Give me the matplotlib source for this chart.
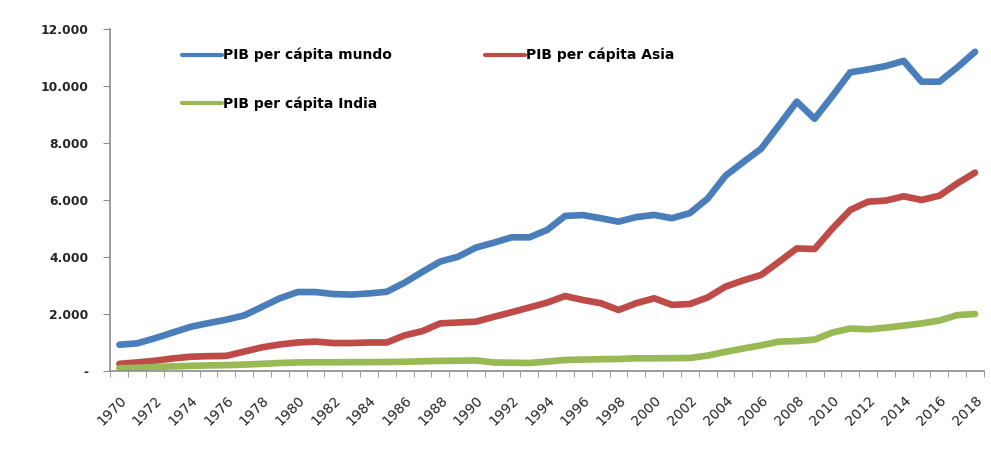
import matplotlib.pyplot as plt
from matplotlib.ticker import FuncFormatter, MultipleLocator

years = list(range(1970, 2019))

pib_mundo = [920, 970, 1150, 1350, 1550, 1680, 1800, 1950, 2250, 2550,
             2770, 2770, 2700, 2680, 2720, 2780, 3100, 3480, 3840, 4010,
             4330, 4500, 4690, 4690, 4950, 5440, 5470, 5360, 5240, 5400,
             5475, 5360, 5540, 6050, 6850, 7330, 7800, 8620, 9450, 8850,
             9650, 10480, 10580, 10700, 10880, 10150, 10150, 10650, 11200]

pib_asia = [250, 300, 360, 440, 500, 520, 530, 680, 830, 930,
            1000, 1030, 980, 980, 1000, 1000, 1250, 1400, 1670, 1700,
            1730, 1900, 2060, 2230, 2400, 2630, 2490, 2380, 2140, 2380,
            2550, 2320, 2350, 2580, 2960, 3180, 3370, 3830, 4300, 4280,
            5000, 5650, 5940, 5980, 6130, 6000, 6150, 6580, 6960]

pib_india = [95, 110, 140, 160, 180, 195, 205, 225, 250, 280,
             300, 305, 305, 310, 310, 315, 325, 340, 355, 360,
             370, 300, 290, 280, 330, 385, 400, 415, 420, 445,
             445, 450, 455, 540, 670, 790, 900, 1030, 1050, 1100,
             1350, 1490, 1460, 1520, 1590, 1670, 1770, 1960, 2000]

fig = plt.figure(figsize=(9.91, 4.5), dpi=100)
ax = fig.add_axes([0.1115, 0.1756, 0.8814, 0.76])

lw = 4.8
l1, = ax.plot(years, pib_mundo, color="#4A7EBB", linewidth=lw, solid_joinstyle="round",
              solid_capstyle="round", label="PIB per cápita mundo")
l2, = ax.plot(years, pib_asia, color="#BE4B48", linewidth=lw, solid_joinstyle="round",
              solid_capstyle="round", label="PIB per cápita Asia")
l3, = ax.plot(years, pib_india, color="#98B954", linewidth=lw, solid_joinstyle="round",
              solid_capstyle="round", label="PIB per cápita India")

ax.set_xlim(years[0] - 0.5, years[-1] + 0.5)
ax.set_ylim(0, 12000)
ax.yaxis.set_major_locator(MultipleLocator(2000))
ax.yaxis.set_major_formatter(FuncFormatter(
    lambda v, p: "-" if v == 0 else f"{int(v):,}".replace(",", ".")))

# labels every two years, tick marks between categories
ax.set_xticks(years[::2])
ax.set_xticks([y - 0.5 for y in years] + [years[-1] + 0.5], minor=True)

for s in ["top", "right"]:
    ax.spines[s].set_visible(False)
for s in ["left", "bottom"]:
    ax.spines[s].set_color("#8C8C8C")
    ax.spines[s].set_linewidth(1.2)

ax.tick_params(axis="y", colors="#8C8C8C", length=5, labelcolor="#262626",
               labelsize=8.8, pad=11)
ax.tick_params(axis="x", which="major", length=0, labelcolor="#262626",
               labelsize=10, pad=16)
ax.tick_params(axis="x", which="minor", colors="#8C8C8C", length=4)
for lab in ax.get_yticklabels():
    lab.set_fontweight("bold")
for lab in ax.get_xticklabels():
    lab.set_rotation(45)
    lab.set_ha("right")
    lab.set_va("top")
    lab.set_rotation_mode("anchor")

leg = fig.legend(handles=[l1, l3, l2], ncol=2, loc="upper left",
                 bbox_to_anchor=(182 / 991, 1 - 48 / 450), frameon=False,
                 borderpad=0, borderaxespad=0,
                 handlelength=2.9, handletextpad=0.05, labelspacing=2.45,
                 columnspacing=6.7, prop={"weight": "bold", "size": 10})
for h in leg.get_lines():
    h.set_linewidth(3)

fig.savefig("out.png", dpi=100)
